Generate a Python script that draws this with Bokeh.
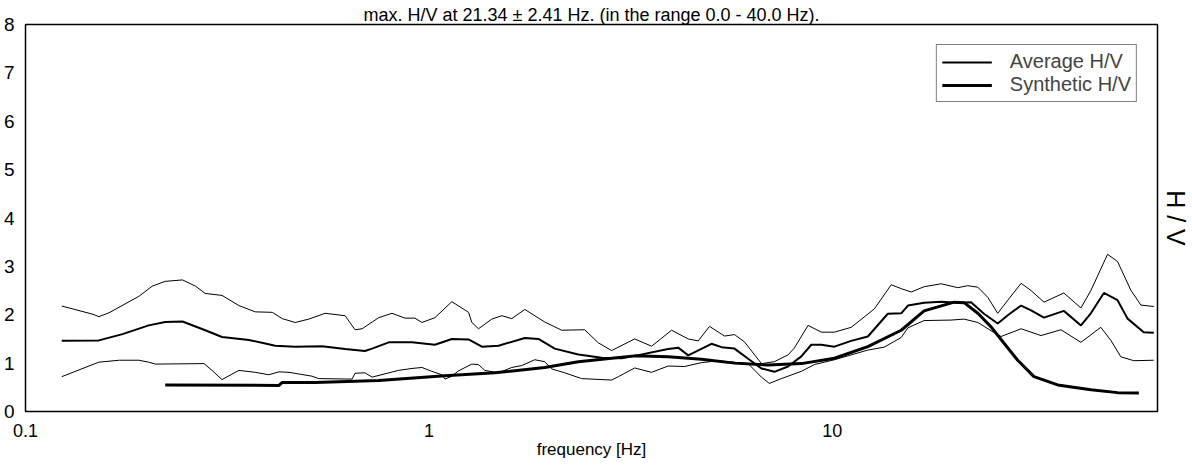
from bokeh.plotting import figure
from bokeh.models import Range1d, LogAxis, LinearAxis, FixedTicker, Legend, LegendItem, LogScale
from bokeh.embed import file_html
from bokeh.resources import INLINE

# ---- data ----
upper_f = [0.123, 0.147, 0.152, 0.161, 0.191, 0.206, 0.222, 0.245, 0.264, 0.279, 0.307, 0.338, 0.371,
           0.409, 0.433, 0.466, 0.504, 0.553, 0.620, 0.656, 0.683, 0.751, 0.810, 0.872, 0.923, 0.961,
           1.035, 1.140, 1.254, 1.278, 1.327, 1.432, 1.516, 1.605, 1.729, 1.937, 2.134, 2.433, 2.630,
           2.838, 3.236, 3.565, 3.996, 4.394, 4.653, 4.961, 5.406, 5.722, 6.056, 6.674, 7.186, 7.768,
           8.05, 8.709, 9.394, 10.12, 11.14, 12.71, 14.00, 14.82, 15.69, 16.89, 18.62, 20.47, 21.67,
           22.95, 24.29, 25.71, 27.23, 29.38, 31.10, 33.48, 37.50, 41.34, 43.75, 48.13, 50.95, 54.95,
           58.21, 62.66]
upper_hv = [2.18, 2.01, 1.96, 2.04, 2.38, 2.59, 2.69, 2.72, 2.59, 2.44, 2.40, 2.19, 2.06,
            2.05, 1.92, 1.84, 1.91, 2.03, 1.98, 1.69, 1.71, 1.94, 2.03, 1.93, 1.93, 1.84,
            1.94, 2.27, 2.05, 1.84, 1.71, 1.91, 1.98, 1.92, 2.11, 1.85, 1.68, 1.69, 1.42,
            1.26, 1.50, 1.35, 1.68, 1.50, 1.46, 1.76, 1.56, 1.59, 1.44, 0.99, 1.03, 1.17,
            1.31, 1.78, 1.64, 1.64, 1.74, 2.12, 2.62, 2.54, 2.47, 2.58, 2.64, 2.56, 2.60,
            2.57, 2.36, 2.03, 2.30, 2.65, 2.50, 2.26, 2.45, 2.14, 2.50, 3.25, 3.10, 2.51,
            2.20, 2.17]

avg_f = [0.123, 0.152, 0.174, 0.202, 0.222, 0.245, 0.279, 0.307, 0.358, 0.416, 0.466, 0.543, 0.620,
         0.694, 0.723, 0.795, 0.908, 1.035, 1.140, 1.254, 1.353, 1.488, 1.729, 1.869, 2.051, 2.347,
         2.681, 3.005, 3.236, 3.918, 4.15, 4.394, 5.018, 5.313, 5.722, 6.185, 6.674, 7.186, 7.768,
         8.38, 8.87, 9.394, 10.12, 11.14, 12.25, 13.73, 14.82, 15.40, 16.89, 18.62, 20.47, 22.08,
         23.77, 25.71, 27.23, 29.38, 31.10, 33.48, 37.50, 41.34, 43.75, 47.12, 50.95, 53.95, 59.16,
         62.66]
avg_hv = [1.46, 1.47, 1.60, 1.78, 1.85, 1.86, 1.68, 1.54, 1.48, 1.36, 1.34, 1.35, 1.29,
          1.25, 1.30, 1.43, 1.43, 1.38, 1.50, 1.49, 1.34, 1.36, 1.52, 1.50, 1.30, 1.18,
          1.11, 1.10, 1.15, 1.29, 1.32, 1.16, 1.40, 1.33, 1.30, 1.09, 0.89, 0.82, 0.93,
          1.14, 1.38, 1.38, 1.34, 1.46, 1.55, 2.02, 2.03, 2.19, 2.25, 2.27, 2.25, 2.26,
          2.02, 1.82, 1.99, 2.19, 2.09, 1.94, 2.08, 1.78, 2.03, 2.45, 2.30, 1.92, 1.64,
          1.63]

lower_f = [0.123, 0.152, 0.171, 0.191, 0.202, 0.210, 0.277, 0.290, 0.307, 0.338, 0.371, 0.401, 0.425,
           0.450, 0.513, 0.533, 0.645, 0.656, 0.694, 0.723, 0.841, 0.908, 0.961, 1.017, 1.077, 1.096,
           1.140, 1.184, 1.278, 1.327, 1.376, 1.488, 1.605, 1.699, 1.830, 1.937, 2.016, 2.171, 2.391,
           2.838, 2.949, 3.236, 3.565, 3.918, 4.302, 4.740, 5.212, 6.185, 6.674, 6.982, 7.479, 8.38,
           9.025, 10.12, 12.25, 13.45, 14.82, 15.40, 16.89, 19.71, 21.22, 22.95, 24.75, 26.20, 29.38,
           32.91, 36.88, 41.34, 46.31, 49.04, 51.92, 55.92, 62.66]
lower_hv = [0.72, 1.02, 1.06, 1.06, 1.02, 0.98, 0.99, 0.85, 0.66, 0.85, 0.81, 0.76, 0.82,
            0.81, 0.73, 0.68, 0.67, 0.79, 0.80, 0.71, 0.85, 0.89, 0.91, 0.83, 0.76, 0.67,
            0.73, 0.84, 0.98, 0.97, 0.85, 0.80, 0.91, 0.95, 1.07, 1.03, 0.88, 0.80, 0.68,
            0.65, 0.72, 0.90, 0.81, 0.94, 0.93, 1.01, 1.05, 0.99, 0.71, 0.58, 0.68, 0.83,
            0.97, 1.07, 1.27, 1.33, 1.53, 1.73, 1.88, 1.89, 1.91, 1.84, 1.67, 1.55, 1.71,
            1.57, 1.69, 1.43, 1.74, 1.47, 1.13, 1.05, 1.06]

syn_f = [0.222, 0.425, 0.433, 0.522, 0.751, 1.096, 1.457, 1.937, 2.347, 2.838, 3.236, 3.918, 4.740,
         5.722, 6.931, 8.38, 10.12, 12.25, 14.82, 16.89, 20.05, 21.22, 22.95, 24.75, 26.65, 28.82,
         31.62, 36.20, 43.75, 50.95, 57.54]
syn_hv = [0.55, 0.54, 0.60, 0.60, 0.64, 0.74, 0.80, 0.91, 1.03, 1.10, 1.15, 1.13, 1.08,
          1.00, 0.96, 0.99, 1.10, 1.34, 1.68, 2.08, 2.26, 2.25, 2.03, 1.75, 1.41, 1.06,
          0.72, 0.55, 0.45, 0.39, 0.38]

x_ticks = [0.1, 1, 10]
y_ticks = [0, 1, 2, 3, 4, 5, 6, 7, 8]
title_text = "max. H/V at 21.34 \u00b1 2.41 Hz. (in the range 0.0 - 40.0 Hz)."
x_label = "frequency [Hz]"
y_label = "H / V"

FONT = "Liberation Sans"

p = figure(width=1192, height=466, x_axis_type=None, y_axis_type=None,
           x_range=Range1d(0.1, 64), y_range=Range1d(0, 8),
           output_backend="svg", toolbar_location=None,
           min_border_left=23, min_border_right=35, min_border_top=24, min_border_bottom=55)
p.x_scale = LogScale()
p.xgrid.visible = False
p.ygrid.visible = False
p.outline_line_color = "black"
p.outline_line_width = 1.5
p.background_fill_color = "white"
p.border_fill_color = "white"

p.title.text = title_text
p.title.align = "center"
p.title.text_font = FONT
p.title.text_font_size = "18px"
p.title.text_font_style = "normal"
p.title.text_color = "black"
p.title.standoff = 0

xa = LogAxis(ticker=FixedTicker(ticks=x_ticks, minor_ticks=[]))
xa.major_label_overrides = {0.1: "0.1", 1: "1", 10: "10"}
xa.axis_line_color = None
xa.major_tick_line_color = None
xa.major_label_standoff = 6
xa.major_label_text_font = FONT
xa.major_label_text_font_size = "18px"
xa.major_label_text_color = "black"
xa.axis_label = x_label
xa.axis_label_standoff = 0
xa.axis_label_text_font = FONT
xa.axis_label_text_font_size = "17px"
xa.axis_label_text_font_style = "normal"
xa.axis_label_text_color = "black"
p.add_layout(xa, "below")

ya = LinearAxis(ticker=FixedTicker(ticks=y_ticks, minor_ticks=[]))
ya.axis_line_color = None
ya.major_tick_line_color = None
ya.major_label_standoff = 5
ya.major_label_text_font = FONT
ya.major_label_text_font_size = "19px"
ya.major_label_text_color = "black"
p.add_layout(ya, "left")

yr = LinearAxis(ticker=FixedTicker(ticks=[], minor_ticks=[]))
yr.axis_line_color = None
yr.major_tick_line_color = None
yr.axis_label = y_label
yr.axis_label_standoff = 4
yr.axis_label_text_font = FONT
yr.axis_label_text_font_size = "25px"
yr.axis_label_text_font_style = "normal"
yr.axis_label_text_color = "black"
p.add_layout(yr, "right")

p.line(upper_f, upper_hv, line_color="black", line_width=1)
p.line(lower_f, lower_hv, line_color="black", line_width=1)
r_avg = p.line(avg_f, avg_hv, line_color="black", line_width=2)
r_syn = p.line(syn_f, syn_hv, line_color="black", line_width=3)

legend = Legend(items=[LegendItem(label="Average H/V", renderers=[r_avg]),
                       LegendItem(label="Synthetic H/V", renderers=[r_syn])],
                location="top_right", margin=20, padding=5, spacing=0,
                glyph_width=50, glyph_height=20, label_standoff=18,
                label_text_font=FONT, label_text_font_size="20px",
                label_height=20,
                border_line_color="black", border_line_width=1.5,
                background_fill_color="white", background_fill_alpha=1)
p.add_layout(legend, "center")

open("out.html", "w").write(file_html(p, INLINE))
